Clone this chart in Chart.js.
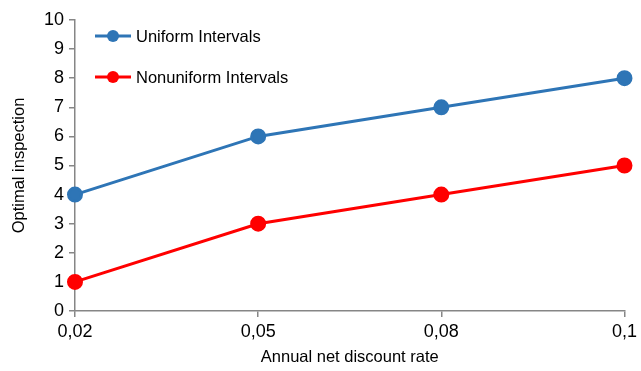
<!DOCTYPE html>
<html>
<head>
<meta charset="utf-8">
<script src="https://cdn.jsdelivr.net/npm/chart.js@4/dist/chart.umd.min.js"></script>
<style>
  html, body { margin: 0; padding: 0; background: #fff; }
  canvas { display: block; }
</style>
</head>
<body>
<canvas id="chart" width="641" height="371"></canvas>
<script>
"use strict";
const rates = ["0,02", "0,05", "0,08", "0,1"];
const uniform = [4, 6, 7, 8];
const nonuniform = [1, 3, 4, 5];

const axisGrey = "#868686";
const family = "'Liberation Sans', Arial, sans-serif";
const tickFont = { family: family, size: 18 };
const titleFont = { family: family, size: 16.5 };

// legend drawn inside the plot with a line + dot marker, like the original
const insideLegend = {
  id: "insideLegend",
  afterDraw(chart) {
    const ctx = chart.ctx;
    const area = chart.chartArea;
    const x0 = area.left + 20;
    const rows = [area.top + 16, area.top + 57];
    chart.data.datasets.forEach((ds, i) => {
      const y = rows[i];
      ctx.save();
      ctx.strokeStyle = ds.borderColor;
      ctx.lineWidth = 3;
      ctx.beginPath();
      ctx.moveTo(x0, y);
      ctx.lineTo(x0 + 36, y);
      ctx.stroke();
      ctx.fillStyle = ds.borderColor;
      ctx.beginPath();
      ctx.arc(x0 + 18, y, 6, 0, Math.PI * 2);
      ctx.fill();
      ctx.fillStyle = "#000";
      ctx.font = "16.5px " + family;
      ctx.textBaseline = "middle";
      ctx.fillText(ds.label, x0 + 41, y + 1);
      ctx.restore();
    });
  },
};

const chart = new Chart(document.getElementById("chart"), {
  type: "line",
  data: {
    labels: rates,
    datasets: [
      {
        label: "Uniform Intervals",
        data: uniform,
        borderColor: "#2E75B6",
        backgroundColor: "#2E75B6",
        borderWidth: 3,
        pointRadius: 6.5,
      },
      {
        label: "Nonuniform Intervals",
        data: nonuniform,
        borderColor: "#FF0000",
        backgroundColor: "#FF0000",
        borderWidth: 3,
        pointRadius: 6.5,
      },
    ],
  },
  options: {
    responsive: false,
    animation: false,
    devicePixelRatio: 1,
    layout: { padding: { top: 20, right: 0, left: 0, bottom: 0 } },
    plugins: {
      legend: { display: false },
      tooltip: { enabled: false },
    },
    scales: {
      x: {
        offset: false,
        grid: { display: true, drawOnChartArea: false, drawTicks: true, tickLength: 6, color: axisGrey, lineWidth: 1.5 },
        border: { color: axisGrey, width: 1.5 },
        ticks: { color: "#000", font: tickFont, padding: 4, maxRotation: 0 },
        title: { display: true, text: "Annual net discount rate", color: "#000", font: titleFont, padding: { top: 1 } },
        afterFit(scale) { scale.height = 60; },
      },
      y: {
        min: 0,
        max: 10,
        ticks: { stepSize: 1, autoSkip: false, color: "#000", font: tickFont, padding: 5 },
        grid: { display: true, drawOnChartArea: false, drawTicks: true, tickLength: 6, color: axisGrey, lineWidth: 1.5 },
        border: { color: axisGrey, width: 1.5 },
        title: { display: true, text: "Optimal inspection", color: "#000", font: titleFont, padding: { top: 10, bottom: 0 } },
        afterFit(scale) { scale.width = 75; },
      },
    },
  },
  plugins: [insideLegend],
});
</script>
</body>
</html>
